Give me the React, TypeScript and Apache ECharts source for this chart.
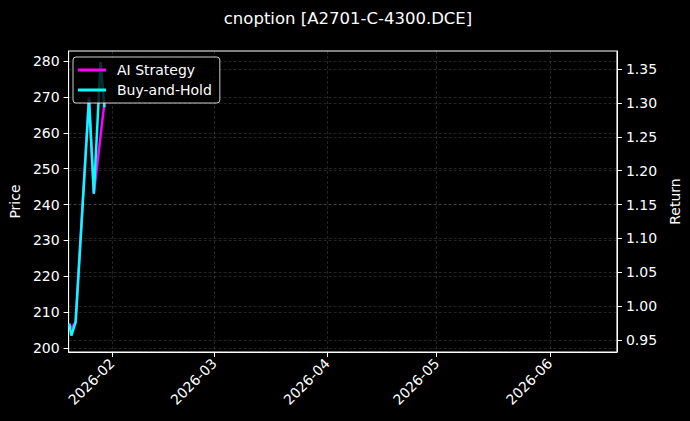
import React, { useEffect, useRef } from 'react';
import * as echarts from 'echarts';

// 数据
const dates = [
  '2026-01-20 06:00',
  '2026-01-20 20:00',
  '2026-01-22 00:00',
  '2026-01-25 16:00',
  '2026-01-27 00:00',
  '2026-01-28 20:00',
  '2026-01-29 22:00',
];
const aiStrategy = [206.8, 205.5, 207.2, 270.0, 243.0, 259.0, 268.6];
const buyAndHold = [206.8, 203.5, 207.2, 269.4, 243.0, 279.7, 267.1];

const priceTicks = [200, 210, 220, 230, 240, 250, 260, 270, 280];
const returnTicks = [0.95, 1.0, 1.05, 1.1, 1.15, 1.2, 1.25, 1.3, 1.35];
const monthTicks = ['2026-02-01', '2026-03-01', '2026-04-01', '2026-05-01', '2026-06-01'];

const FONT = 'DejaVu Sans';
const GRID_LINE = { color: 'rgba(255,255,255,0.2)', width: 0.7, type: [3, 2] as number[] };

const toTime = (s: string) => echarts.time.parse(s).getTime();

const App: React.FC = () => {
  const chartRef = useRef<HTMLDivElement>(null);

  useEffect(() => {
    document.body.style.margin = '0';
    document.body.style.background = '#000';
    if (!chartRef.current) return;
    const chart = echarts.init(chartRef.current, null, { renderer: 'svg' });

    const monthValues = monthTicks.map(toTime);
    const fmtMonth = (v: number) => {
      const d = new Date(v);
      return `${d.getFullYear()}-${String(d.getMonth() + 1).padStart(2, '0')}`;
    };

    const option = {
      animation: false,
      backgroundColor: '#000',
      textStyle: { fontFamily: FONT },
      title: {
        text: 'cnoption [A2701-C-4300.DCE]',
        left: 343,
        top: 5,
        textAlign: 'center',
        textStyle: { color: '#fff', fontSize: 16.5, fontWeight: 'normal', fontFamily: FONT },
      },
      legend: {
        orient: 'vertical',
        left: 73,
        top: 57,
        padding: [6, 8, 6, 5],
        itemGap: 6,
        itemWidth: 28,
        itemHeight: 3,
        icon: 'rect',
        backgroundColor: 'rgba(0,0,0,0.8)',
        borderColor: 'rgba(255,255,255,0.8)',
        borderWidth: 1,
        borderRadius: 3,
        textStyle: { color: '#fff', fontSize: 14, fontFamily: FONT, padding: [0, 0, 0, 6] },
        data: ['AI Strategy', 'Buy-and-Hold'],
      },
      grid: {
        left: 66,
        right: 70,
        top: 51,
        bottom: 69,
        show: true,
        borderColor: '#fff',
        borderWidth: 1,
        backgroundColor: 'transparent',
      },
      xAxis: {
        type: 'value',
        min: toTime('2026-01-20 02:00'),
        max: toTime('2026-06-19 10:00'),
        axisLine: { show: true, onZero: false, lineStyle: { color: '#fff', width: 1 } },
        axisTick: { show: true, length: 5, lineStyle: { color: '#fff' }, customValues: monthValues },
        axisLabel: {
          color: '#fff',
          fontSize: 14,
          fontFamily: FONT,
          rotate: 45,
          margin: 9,
          customValues: monthValues,
          formatter: fmtMonth,
        },
        splitLine: { show: true, lineStyle: GRID_LINE },
      },
      yAxis: [
        {
          type: 'value',
          name: 'Price',
          nameLocation: 'middle',
          nameGap: 44,
          nameTextStyle: { color: '#fff', fontSize: 14, fontFamily: FONT },
          min: 198.9,
          max: 282.8,
          splitNumber: 8,
          axisLine: { show: true, lineStyle: { color: '#fff', width: 1 } },
          axisTick: { show: true, length: 5, lineStyle: { color: '#fff' }, customValues: priceTicks },
          axisLabel: {
            color: '#fff',
            fontSize: 14,
            fontFamily: FONT,
            margin: 9,
            customValues: priceTicks,
            formatter: (v: number) => String(v),
          },
          splitLine: { show: true, lineStyle: GRID_LINE },
        },
        {
          type: 'value',
          name: 'Return',
          nameLocation: 'middle',
          nameGap: 45,
          nameTextStyle: { color: '#fff', fontSize: 14, fontFamily: FONT },
          position: 'right',
          min: 0.9323,
          max: 1.3766,
          splitNumber: 8,
          axisLine: { show: true, lineStyle: { color: '#fff', width: 1 } },
          axisTick: { show: true, length: 5, lineStyle: { color: '#fff' }, customValues: returnTicks },
          axisLabel: {
            color: '#fff',
            fontSize: 14,
            fontFamily: FONT,
            margin: 9,
            customValues: returnTicks,
            formatter: (v: number) => v.toFixed(2),
          },
          splitLine: { show: true, lineStyle: GRID_LINE },
        },
      ],
      series: [
        {
          name: 'AI Strategy',
          type: 'line',
          yAxisIndex: 0,
          data: dates.map((d, i) => [toTime(d), aiStrategy[i]]),
          showSymbol: false,
          symbol: 'none',
          lineStyle: { color: '#ff00ff', width: 2.5 },
          itemStyle: { color: '#ff00ff' },
        },
        {
          name: 'Buy-and-Hold',
          type: 'line',
          yAxisIndex: 0,
          data: dates.map((d, i) => [toTime(d), buyAndHold[i]]),
          showSymbol: false,
          symbol: 'none',
          lineStyle: { color: '#00ffff', width: 2.5 },
          itemStyle: { color: '#00ffff' },
        },
      ],
    };

    chart.setOption(option);
    return () => {
      chart.dispose();
    };
  }, []);

  return <div ref={chartRef} style={{ width: 690, height: 421 }} />;
};

export default App;
